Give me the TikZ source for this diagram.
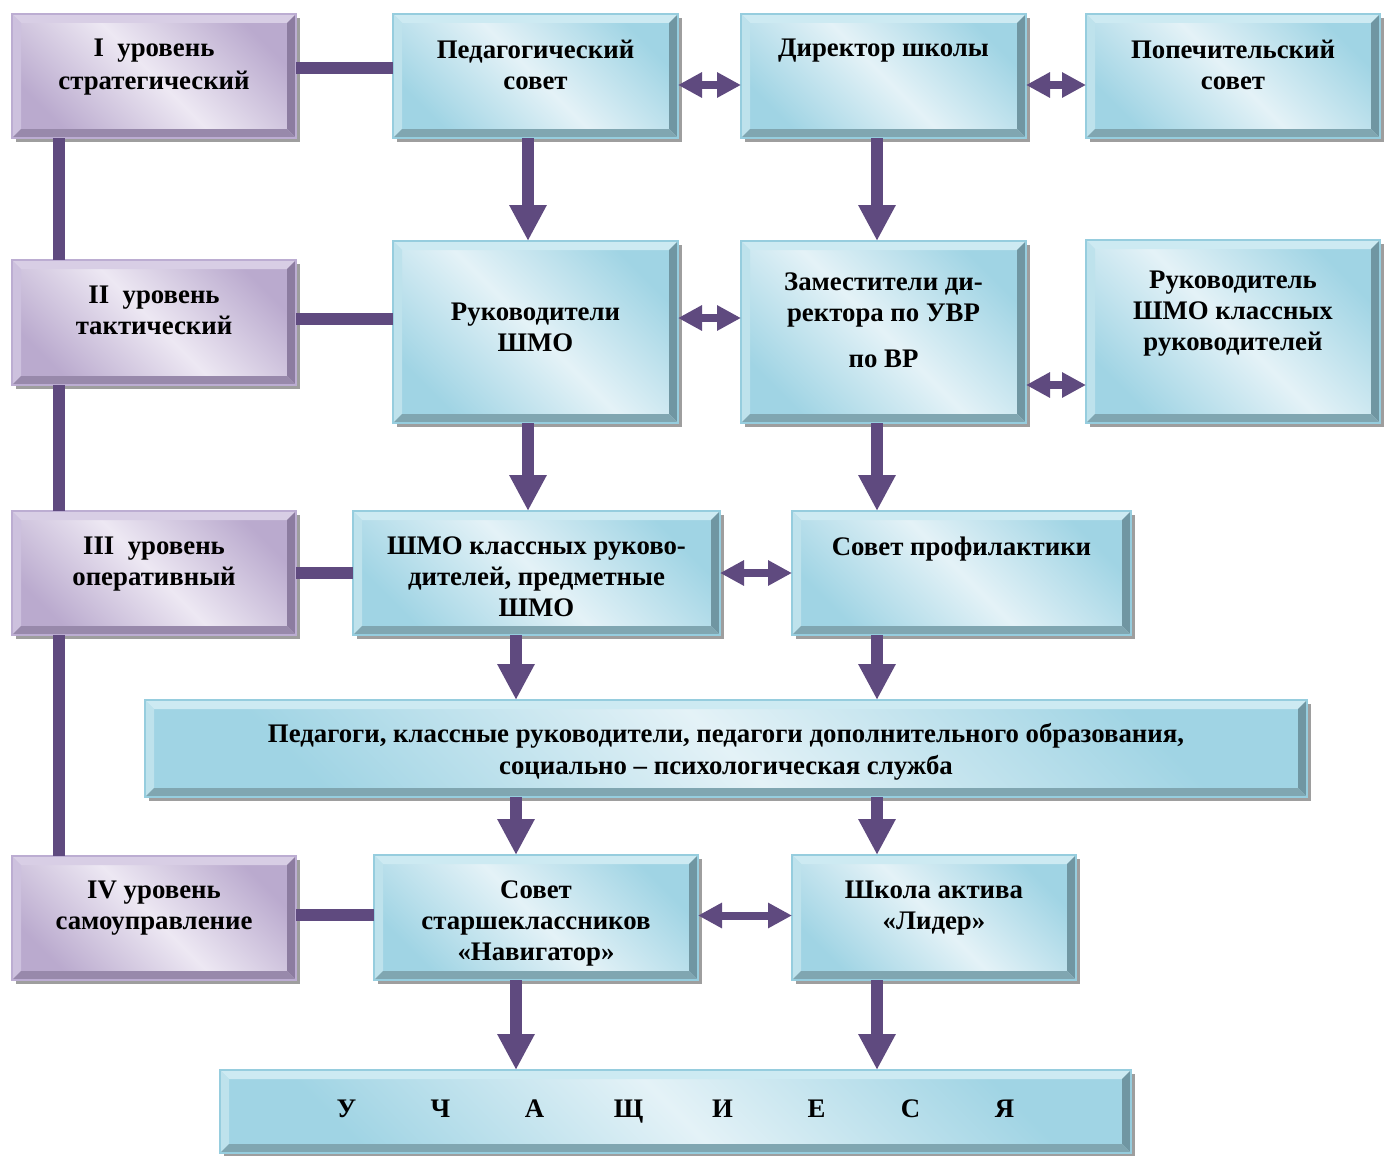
\documentclass[tikz,border=0pt]{standalone}
\usepackage{fontspec}
\setmainfont{Liberation Serif}
\usetikzlibrary{arrows.meta, shadows}

\definecolor{link}{RGB}{95,74,127}
\definecolor{skyedge}{RGB}{150,205,222}
\definecolor{skytop}{RGB}{205,234,242}
\definecolor{skyleft}{RGB}{190,226,236}
\definecolor{skyright}{RGB}{112,150,162}
\definecolor{skybottom}{RGB}{128,166,177}
\definecolor{skydark}{RGB}{160,212,228}
\definecolor{skylight}{RGB}{228,242,247}
\definecolor{lilacedge}{RGB}{188,173,210}
\definecolor{lilactop}{RGB}{216,206,229}
\definecolor{lilacleft}{RGB}{205,193,222}
\definecolor{lilacright}{RGB}{140,124,160}
\definecolor{lilacbottom}{RGB}{152,137,171}
\definecolor{lilacdark}{RGB}{186,170,206}
\definecolor{lilaclight}{RGB}{237,232,243}

\begin{document}
\begin{tikzpicture}[x=1pt, y=-1pt,
    box/.style={draw=#1edge, line width=1.2pt, top color=#1dark, bottom color=#1dark,
      middle color=#1light, shading angle=-45, inner sep=0pt, outer sep=0pt,
      drop shadow={shadow xshift=4pt, shadow yshift=-4pt, fill=black!38, opacity=1},
      path picture={
        \coordinate (bnw) at (path picture bounding box.north west);
        \coordinate (bne) at (path picture bounding box.north east);
        \coordinate (bsw) at (path picture bounding box.south west);
        \coordinate (bse) at (path picture bounding box.south east);
        \fill[#1top] (bnw) -- (bne) -- ([shift={(-9pt,-9pt)}]bne) -- ([shift={(9pt,-9pt)}]bnw) -- cycle;
        \fill[#1left] (bnw) -- (bsw) -- ([shift={(9pt,9pt)}]bsw) -- ([shift={(9pt,-9pt)}]bnw) -- cycle;
        \fill[#1right] (bne) -- (bse) -- ([shift={(-9pt,9pt)}]bse) -- ([shift={(-9pt,-9pt)}]bne) -- cycle;
        \fill[#1bottom] (bsw) -- (bse) -- ([shift={(-9pt,9pt)}]bse) -- ([shift={(9pt,9pt)}]bsw) -- cycle;
      }},
    txt/.style={font=\fontsize{26.8}{31}\selectfont\bfseries, align=center},
    tie/.style={draw=link, line width=12pt},
    down/.style={draw=link, line width=12pt, -{Triangle[width=35pt,length=36pt]}},
    both/.style={draw=link, line width=8pt,
      {Triangle[width=24pt,length=24pt]}-{Triangle[width=24pt,length=24pt]}}]

    \useasboundingbox (0,0) rectangle (1384,1156);

    % levels
    \node[box=lilac, minimum width=284pt, minimum height=124pt,
      label={[txt,yshift=9pt,font=\fontsize{26.8}{33}\selectfont\bfseries]center:{I\ \ уровень\\стратегический}}] (lvlI) at (154,76) {};
    \node[box=lilac, minimum width=284pt, minimum height=125pt,
      label={[txt,yshift=12pt]center:{II\ \ уровень\\тактический}}] (lvlII) at (154,322.5) {};
    \node[box=lilac, minimum width=284pt, minimum height=124pt,
      label={[txt,yshift=8.5pt]center:{III\ \ уровень\\оперативный}}] (lvlIII) at (154,573) {};
    \node[box=lilac, minimum width=284pt, minimum height=124pt,
      label={[txt,yshift=10pt]center:{IV уровень\\самоуправление}}] (lvlIV) at (154,918) {};

    \node[box=sky, minimum width=285pt, minimum height=124pt,
      label={[txt,yshift=11pt]center:{Педагогический\\совет}}] (pedsovet) at (535.5,76) {};
    \node[box=sky, minimum width=285pt, minimum height=124pt,
      label={[txt,yshift=25pt]center:{Директор школы}}] (director) at (883.5,76) {};
    \node[box=sky, minimum width=294pt, minimum height=124pt,
      label={[txt,yshift=11pt]center:{Попечительский\\совет}}] (popsovet) at (1233,76) {};

    \node[box=sky, minimum width=285pt, minimum height=182pt,
      label={[txt,yshift=5pt]center:{Руководители\\ШМО}}] (rukshmo) at (535.5,332) {};
    \node[box=sky, minimum width=285pt, minimum height=182pt,
      label={[txt,yshift=12pt]center:{Заместители ди-\\ректора по УВР\\[15pt]по ВР}}] (zamdir) at (883.5,332) {};
    \node[box=sky, minimum width=294pt, minimum height=183pt,
      label={[txt,yshift=18pt]center:{Руководитель\\ШМО классных\\руководителей}}] (rukklshmo) at (1233,331.5) {};

    \node[box=sky, minimum width=367pt, minimum height=124pt,
      label={[txt,yshift=-4pt]center:{ШМО классных руково-\\дителей, предметные\\ШМО}}] (klshmo) at (536.5,573) {};
    \node[box=sky, minimum width=339pt, minimum height=124pt,
      label={[txt,yshift=24pt]center:{Совет профилактики}}] (sovprof) at (961.5,573) {};

    \node[box=sky, minimum width=1162pt, minimum height=97pt,
      label={[txt,yshift=-3.5pt,font=\fontsize{26.8}{32}\selectfont\bfseries]center:{Педагоги, классные руководители, педагоги дополнительного образования,\\социально -- психологическая служба}}] (pedagogi) at (726,748.5) {};

    \node[box=sky, minimum width=324pt, minimum height=125pt,
      label={[txt,yshift=-6pt]center:{Совет\\старшеклассников\\«Навигатор»}}] (sovstar) at (536,917.5) {};
    \node[box=sky, minimum width=284pt, minimum height=125pt,
      label={[txt,yshift=9pt]center:{Школа актива\\«Лидер»}}] (aktiv) at (934,917.5) {};

    \node[box=sky, minimum width=911pt, minimum height=83pt,
      label={[txt]center:{\makebox[94pt]{У}\makebox[94pt]{Ч}\makebox[94pt]{А}\makebox[94pt]{Щ}\makebox[94pt]{И}\makebox[94pt]{Е}\makebox[94pt]{С}\makebox[94pt]{Я}}}] (uchen) at (675.5,1111.5) {};

    % columns of the arrows
    \coordinate (colA) at (528,0);
    \coordinate (colB) at (877,0);
    \coordinate (colC) at (516,0);
    \coordinate (colL) at (59,0);

    \draw[tie] (lvlI.south -| colL) -- (lvlII.north -| colL);
    \draw[tie] (lvlII.south -| colL) -- (lvlIII.north -| colL);
    \draw[tie] (lvlIII.south -| colL) -- (lvlIV.north -| colL);
    \draw[tie] ([yshift=8pt]lvlI.east) -- ([yshift=8pt]lvlI.east -| pedsovet.west);
    \draw[tie] ([yshift=4pt]lvlII.east) -- ([yshift=4pt]lvlII.east -| rukshmo.west);
    \draw[tie] (lvlIII.east) -- (lvlIII.east -| klshmo.west);
    \draw[tie] ([yshift=3pt]lvlIV.east) -- ([yshift=3pt]lvlIV.east -| sovstar.west);

    \draw[down] (pedsovet.south -| colA) -- (rukshmo.north -| colA);
    \draw[down] (director.south -| colB) -- (zamdir.north -| colB);
    \draw[down] (rukshmo.south -| colA) -- (klshmo.north -| colA);
    \draw[down] (zamdir.south -| colB) -- (sovprof.north -| colB);
    \draw[down] (klshmo.south -| colC) -- (pedagogi.north -| colC);
    \draw[down] (sovprof.south -| colB) -- (pedagogi.north -| colB);
    \draw[down] (pedagogi.south -| colC) -- (sovstar.north -| colC);
    \draw[down] (pedagogi.south -| colB) -- (aktiv.north -| colB);
    \draw[down] (sovstar.south -| colC) -- (uchen.north -| colC);
    \draw[down] (aktiv.south -| colB) -- (uchen.north -| colB);

    \draw[both] ([yshift=-9pt]pedsovet.east) -- ([yshift=-9pt]pedsovet.east -| director.west);
    \draw[both] ([yshift=-9pt]director.east) -- ([yshift=-9pt]director.east -| popsovet.west);
    \draw[both] ([yshift=14pt]rukshmo.east) -- ([yshift=14pt]rukshmo.east -| zamdir.west);
    \draw[both] ([yshift=-53pt]zamdir.east) -- ([yshift=-53pt]zamdir.east -| rukklshmo.west);
    \draw[both] (klshmo.east) -- (klshmo.east -| sovprof.west);
    \draw[both] ([yshift=2pt]sovstar.east) -- ([yshift=2pt]sovstar.east -| aktiv.west);
\end{tikzpicture}
\end{document}
